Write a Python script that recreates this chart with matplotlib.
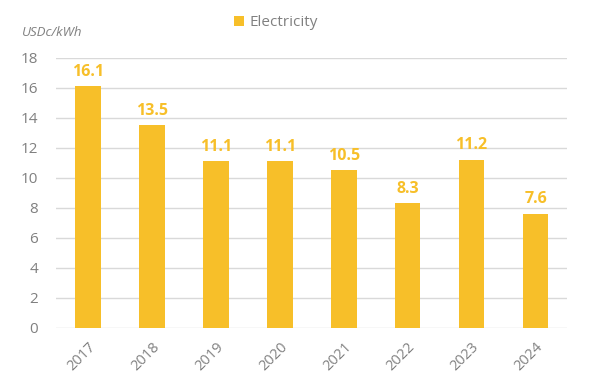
import matplotlib.pyplot as plt
import numpy as np

years = ["2017", "2018", "2019", "2020", "2021", "2022", "2023", "2024"]
price = [16.1, 13.5, 11.1, 11.1, 10.5, 8.3, 11.2, 7.6]

plt.rcParams['font.family'] = ['Open Sans', 'DejaVu Sans']
bar_color = '#F7BF29'
grey = '#808080'

fig = plt.figure(figsize=(5.92, 3.84), dpi=100)
ax = fig.add_axes([0.0946, 0.146, 0.864, 0.703])

x = np.arange(len(years))
bars = ax.bar(x, price, width=0.4, color=bar_color, zorder=3, label='Electricity')
for xi, v in zip(x, price):
    ax.text(xi, v + 0.45, f"{v:.1f}", ha='center', va='bottom', fontsize=11.5,
            fontweight='bold', color=bar_color)

ax.set_xlim(-0.5, len(years) - 0.5)
ax.set_ylim(0, 18)
ax.set_yticks(range(0, 19, 2))
ax.grid(axis='y', color='#D9D9D9', linewidth=1, zorder=0)
ax.set_xticks(x)
ax.set_xticklabels(years, rotation=45, ha='right', rotation_mode='anchor')
ax.tick_params(axis='both', length=0, colors=grey, labelsize=10.5)
ax.tick_params(axis='y', pad=13, labelsize=11)
ax.tick_params(axis='x', pad=8)
for s in ax.spines.values():
    s.set_visible(False)

fig.text(22 / 592, 1 - 32 / 384, "USDc/kWh", fontsize=9.5, style='italic',
         color=grey, va='center', ha='left')
ax.legend(loc='center', bbox_to_anchor=(276 / 592, 1 - 23 / 384),
          bbox_transform=fig.transFigure, frameon=False, fontsize=11,
          labelcolor=grey, handlelength=0.65, handleheight=0.65, handletextpad=0.4)

fig.savefig("out.png", dpi=100)
